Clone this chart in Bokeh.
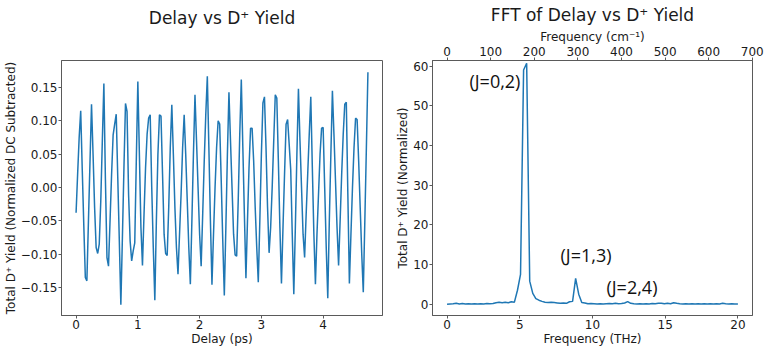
import numpy as np
from bokeh.plotting import figure
from bokeh.layouts import row
from bokeh.models import Range1d, LinearAxis, FixedTicker, CustomJSTickFormatter, Label
from bokeh.embed import file_html
from bokeh.resources import INLINE

# ---------------- data ----------------
delay_step_ps = 0.025
yield_dc_sub = [
    -0.038, 0.02, 0.075, 0.115, 0.027, -0.057, -0.135, -0.140, -0.051, 0.037,
    0.125, 0.05, -0.03, -0.090, -0.099, -0.085, -0.02, 0.07, 0.156, 0.012,
    -0.105, -0.118, -0.05, 0.02, 0.079, 0.095, 0.110, 0.015, -0.08, -0.176,
    -0.075, 0.03, 0.126, 0.114, -0.01, -0.08, -0.110, -0.095, -0.083, 0.04,
    0.159, 0.05, -0.06, -0.117, -0.04, 0.03, 0.08, 0.104, 0.109, 0.0,
    -0.09, -0.169, -0.05, 0.05, 0.109, 0.107, 0.02, -0.07, -0.099, -0.102,
    -0.03, 0.06, 0.124, 0.05, -0.03, -0.09, -0.130, -0.07, -0.01, 0.06,
    0.109, 0.05, -0.02, -0.09, -0.145, -0.05, 0.05, 0.139, 0.07, 0.0,
    -0.07, -0.118, -0.04, 0.04, 0.11, 0.167, 0.06, -0.05, -0.146, -0.07,
    0.0, 0.06, 0.100, 0.095, 0.01, -0.08, -0.162, -0.06, 0.05, 0.143,
    0.07, 0.0, -0.07, -0.101, -0.103, -0.02, 0.08, 0.162, 0.06, -0.04,
    -0.136, -0.05, 0.03, 0.089, 0.089, 0.04, -0.03, -0.09, -0.142, -0.05,
    0.05, 0.127, 0.136, 0.06, -0.03, -0.098, -0.06, 0.0, 0.07, 0.139,
    0.134, 0.04, -0.06, -0.144, -0.06, 0.02, 0.095, 0.102, 0.065, 0.027,
    -0.07, -0.160, -0.06, 0.05, 0.148, 0.07, 0.0, -0.07, -0.105, -0.04,
    0.02, 0.08, 0.136, 0.03, -0.07, -0.145, -0.07, -0.01, 0.05, 0.089,
    0.090, 0.0, -0.09, -0.166, -0.05, 0.05, 0.145, 0.08, 0.01, -0.06,
    -0.117, -0.05, 0.02, 0.08, 0.125, 0.128, -0.01, -0.144, -0.07, 0.0,
    0.06, 0.104, 0.102, 0.04, -0.03, -0.10, -0.157, -0.05, 0.06, 0.173,
]
delay_ps = [round(i * delay_step_ps, 3) for i in range(len(yield_dc_sub))]

fft_step_thz = 0.2105
fft_amp = [
    0.0, 0.05, 0.1, 0.2, 0.05, 0.15, 0.05, 0.1, 0.05, 0.1,
    0.05, 0.08, 0.05, 0.15, 0.1, 0.15, 0.35, 0.45, 0.35, 0.45,
    0.35, 0.6, 0.5, 3.5, 7.5, 59.0, 60.7, 5.8, 2.7, 1.4,
    1.0, 0.7, 0.5, 0.4, 0.5, 0.4, 0.3, 0.2, 0.3, 0.2,
    0.6, 0.7, 6.5, 2.5, 0.4, 0.3, 0.1, 0.15, 0.1, 0.05,
    0.1, 0.05, 0.1, 0.15, 0.1, 0.2, 0.1, 0.15, 0.3, 0.65,
    0.2, 0.1, 0.05, 0.1, 0.05, 0.1, 0.05, 0.15, 0.1, 0.2,
    0.25, 0.1, 0.2, 0.1, 0.35, 0.2, 0.1, 0.05, 0.1, 0.05,
    0.1, 0.05, 0.1, 0.05, 0.1, 0.05, 0.1, 0.05, 0.1, 0.05,
    0.2, 0.1, 0.05, 0.1, 0.05, 0.05,
]
fft_freq_thz = [round(i * fft_step_thz, 4) for i in range(len(fft_amp))]

thz_to_cm = 33.356
left_ticks = [-0.15, -0.10, -0.05, 0.0, 0.05, 0.10, 0.15]
delay_ticks = [0, 1, 2, 3, 4]
fft_y_ticks = [0, 10, 20, 30, 40, 50, 60]
thz_ticks = [0, 5, 10, 15, 20]
cm_ticks = [0, 100, 200, 300, 400, 500, 600, 700]
peak_labels = ["(J=0,2)", "(J=1,3)", "(J=2,4)"]
peak_label_x = [1.54, 7.8, 10.96]
peak_label_y = [56.3, 12.5, 4.4]

LINE = "#1f77b4"
FONT = "DejaVu Sans"
TXT = "#1a1a1a"
FRAME = "#5a5a5a"


def style_axis(ax):
    ax.axis_line_color = FRAME
    ax.major_tick_line_color = FRAME
    ax.major_tick_out = 3
    ax.major_tick_in = 0
    ax.minor_tick_line_color = None
    ax.major_label_text_font = FONT
    ax.major_label_text_font_size = "12px"
    ax.major_label_text_color = TXT
    ax.axis_label_text_font = FONT
    ax.axis_label_text_font_size = "12px"
    ax.axis_label_text_font_style = "normal"
    ax.axis_label_text_color = TXT
    ax.major_label_standoff = 1
    ax.axis_label_standoff = 0


def style_fig(p):
    p.xgrid.visible = False
    p.ygrid.visible = False
    p.outline_line_color = FRAME
    p.outline_line_width = 1
    p.title.text_font = FONT
    p.title.text_font_size = "17px"
    p.title.text_font_style = "normal"
    p.title.text_color = TXT
    p.title.align = "center"
    p.title.standoff = 4
    p.background_fill_color = "white"
    p.border_fill_color = "white"


# ---------------- left figure ----------------
p1 = figure(width=392, height=348, output_backend="svg", toolbar_location=None,
            x_range=Range1d(-0.236, 4.961), y_range=Range1d(-0.192, 0.1905),
            title="Delay vs D\u207a Yield",
            min_border_left=57, min_border_right=10, min_border_top=20, min_border_bottom=30)
style_fig(p1)
p1.line(delay_ps, yield_dc_sub, line_color=LINE, line_width=1.5)
p1.xaxis.axis_label = "Delay (ps)"
p1.yaxis.axis_label = "Total D\u207a Yield (Normalized DC Subtracted)"
p1.xaxis.ticker = FixedTicker(ticks=delay_ticks)
p1.yaxis.ticker = FixedTicker(ticks=left_ticks)
p1.yaxis.formatter = CustomJSTickFormatter(
    code="return (tick < -1e-9 ? '\\u2212' : '') + Math.abs(tick).toFixed(2);")
for ax in p1.xaxis + p1.yaxis:
    style_axis(ax)

# blank spacer axis above the left frame so both titles sit at the same height
spacer_ax = LinearAxis(axis_label=" ", ticker=FixedTicker(ticks=[]))
style_axis(spacer_ax)
spacer_ax.axis_line_color = None
spacer_ax.major_tick_line_color = None
spacer_ax.axis_label_standoff = 14
p1.add_layout(spacer_ax, "above")

# ---------------- right figure ----------------
p2 = figure(width=372, height=348, output_backend="svg", toolbar_location=None,
            x_range=Range1d(-1, 21), y_range=Range1d(-2.86, 61.4),
            title="FFT of Delay vs D\u207a Yield",
            min_border_left=40, min_border_right=12, min_border_top=20, min_border_bottom=30)
style_fig(p2)
p2.line(fft_freq_thz, fft_amp, line_color=LINE, line_width=1.5)
p2.xaxis.axis_label = "Frequency (THz)"
p2.yaxis.axis_label = "Total D\u207a Yield (Normalized)"
p2.xaxis.ticker = FixedTicker(ticks=thz_ticks)
p2.yaxis.ticker = FixedTicker(ticks=fft_y_ticks)
for ax in p2.xaxis + p2.yaxis:
    style_axis(ax)

p2.extra_x_ranges = {"cm": Range1d(-1 * thz_to_cm, 21 * thz_to_cm)}
top_ax = LinearAxis(x_range_name="cm", axis_label="Frequency (cm\u207b\u00b9)",
                    ticker=FixedTicker(ticks=cm_ticks))
style_axis(top_ax)
top_ax.major_label_standoff = 2
p2.add_layout(top_ax, "above")

for txt, lx, ly in zip(peak_labels, peak_label_x, peak_label_y):
    p2.add_layout(Label(x=lx, y=ly, text=txt, text_font="Open Sans",
                        text_font_size="18px", text_color="#111111",
                        text_baseline="middle", text_align="left"))

layout = row(p1, p2)
open("out.html", "w").write(file_html(layout, INLINE))
